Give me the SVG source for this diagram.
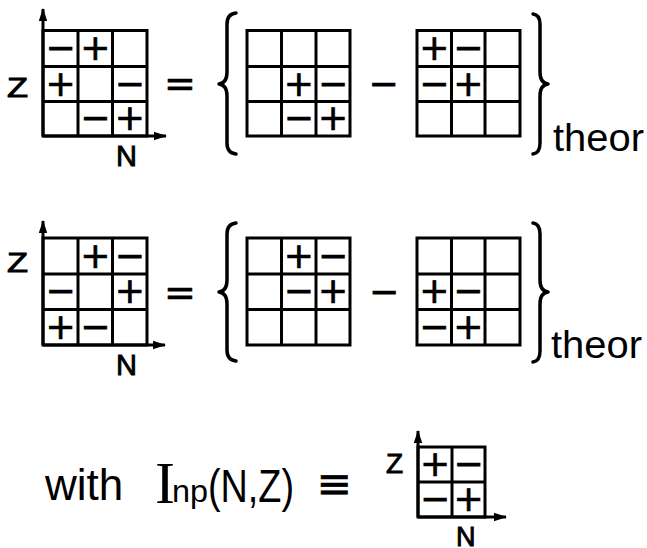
<svg xmlns="http://www.w3.org/2000/svg" width="647" height="548" viewBox="0 0 647 548">
<style>
.bg{fill:#fff}
.grid rect,.grid line{fill:none;stroke:#000;stroke-width:3}
.axis{stroke:#000;stroke-width:3;fill:none}
.brace{fill:none;stroke:#000;stroke-width:3.5;stroke-linecap:round;stroke-linejoin:round}
.s{font-family:"DejaVu Sans",sans-serif;font-size:36px;text-anchor:middle;fill:#000;stroke:#000;stroke-width:0.7}
.op{font-family:"DejaVu Sans",sans-serif;text-anchor:middle;fill:#000;stroke:#000;stroke-width:0.7}
.t{font-family:"Liberation Sans",Arial,sans-serif;fill:#000}
.lb{font-family:"Liberation Sans",Arial,sans-serif;fill:#000;stroke:#000;stroke-width:0.9}
</style>
<defs>
<marker id="ah" markerUnits="userSpaceOnUse" markerWidth="14" markerHeight="10" refX="12" refY="5" orient="auto">
<path d="M0,0.8 L13,5 L0,9.2 z" fill="#000"/>
</marker>
</defs>
<rect class="bg" x="0" y="0" width="647" height="548"/>

<!-- Row 1 -->
<g id="r1-lhs">
<text class="lb" x="7" y="97" font-size="27" textLength="21" lengthAdjust="spacingAndGlyphs">Z</text>
<text class="lb" x="116" y="166" font-size="29">N</text>
<g class="grid"><rect x="43" y="30.5" width="104" height="105.5"/>
<line x1="78" y1="30.5" x2="78" y2="136"/><line x1="112.5" y1="30.5" x2="112.5" y2="136"/>
<line x1="43" y1="66.5" x2="147" y2="66.5"/><line x1="43" y1="101.5" x2="147" y2="101.5"/></g>
<text class="s" x="60.5" y="60">−</text><text class="s" x="95.25" y="60">+</text>
<text class="s" x="60.5" y="95.5">+</text><text class="s" x="129.75" y="95.5">−</text>
<text class="s" x="95.25" y="130.25">−</text><text class="s" x="129.75" y="130.25">+</text>
</g>
<text id="r1-eq" class="op" x="180" y="96" font-size="38">=</text>
<g id="r1-g2">
<g class="grid"><rect x="247" y="30.5" width="103" height="105.5"/>
<line x1="281.5" y1="30.5" x2="281.5" y2="136"/><line x1="316" y1="30.5" x2="316" y2="136"/>
<line x1="247" y1="66.5" x2="350" y2="66.5"/><line x1="247" y1="101.5" x2="350" y2="101.5"/></g>
<text class="s" x="298.75" y="95.5">+</text><text class="s" x="333" y="95.5">−</text>
<text class="s" x="298.75" y="130.25">−</text><text class="s" x="333" y="130.25">+</text>
</g>
<text id="r1-minus" class="op" x="383.5" y="95.5" font-size="36">−</text>
<g id="r1-g3">
<g class="grid"><rect x="417" y="30.5" width="103" height="105.5"/>
<line x1="451.5" y1="30.5" x2="451.5" y2="136"/><line x1="485" y1="30.5" x2="485" y2="136"/>
<line x1="417" y1="66.5" x2="520" y2="66.5"/><line x1="417" y1="101.5" x2="520" y2="101.5"/></g>
<text class="s" x="434.25" y="60">+</text><text class="s" x="468.25" y="60">−</text>
<text class="s" x="434.25" y="95.5">−</text><text class="s" x="468.25" y="95.5">+</text>
</g>
<g id="r1-braces">
<path class="brace" d="M236,13 Q227,14 227,24 L227,72 Q227,83 219,84 Q227,85 227,96 L227,143 Q227,153 236,154"/>
<path class="brace" d="M533,14 Q540,15 540,24 L540,72 Q540,83 548,84 Q540,85 540,96 L540,143 Q540,153 533,154"/>
</g>
<text id="r1-theor" class="t" x="553" y="151" font-size="38" textLength="91" lengthAdjust="spacingAndGlyphs">theor</text>

<!-- Row 2 -->
<g id="r2-lhs">
<text class="lb" x="7" y="272" font-size="27" textLength="21" lengthAdjust="spacingAndGlyphs">Z</text>
<text class="lb" x="116" y="375" font-size="29">N</text>
<g class="grid"><rect x="43" y="238" width="104" height="107"/>
<line x1="78" y1="238" x2="78" y2="345"/><line x1="112.5" y1="238" x2="112.5" y2="345"/>
<line x1="43" y1="274" x2="147" y2="274"/><line x1="43" y1="309.5" x2="147" y2="309.5"/></g>
<text class="s" x="95.25" y="267.5">+</text><text class="s" x="129.75" y="267.5">−</text>
<text class="s" x="60.5" y="303.25">−</text><text class="s" x="129.75" y="303.25">+</text>
<text class="s" x="60.5" y="338.75">+</text><text class="s" x="95.25" y="338.75">−</text>
</g>
<text id="r2-eq" class="op" x="180" y="305" font-size="38">=</text>
<g id="r2-g2">
<g class="grid"><rect x="247" y="238" width="103" height="107"/>
<line x1="281.5" y1="238" x2="281.5" y2="345"/><line x1="316" y1="238" x2="316" y2="345"/>
<line x1="247" y1="274" x2="350" y2="274"/><line x1="247" y1="309.5" x2="350" y2="309.5"/></g>
<text class="s" x="298.75" y="267.5">+</text><text class="s" x="333" y="267.5">−</text>
<text class="s" x="298.75" y="303.25">−</text><text class="s" x="333" y="303.25">+</text>
</g>
<text id="r2-minus" class="op" x="384" y="304" font-size="36">−</text>
<g id="r2-g3">
<g class="grid"><rect x="417" y="238" width="103" height="107"/>
<line x1="451.5" y1="238" x2="451.5" y2="345"/><line x1="485" y1="238" x2="485" y2="345"/>
<line x1="417" y1="274" x2="520" y2="274"/><line x1="417" y1="309.5" x2="520" y2="309.5"/></g>
<text class="s" x="434.25" y="303.25">+</text><text class="s" x="468.25" y="303.25">−</text>
<text class="s" x="434.25" y="338.75">−</text><text class="s" x="468.25" y="338.75">+</text>
</g>
<g id="r2-braces">
<path class="brace" d="M236,223 Q227,224 227,234 L227,280 Q227,291 219,292 Q227,293 227,304 L227,350 Q227,360 236,361"/>
<path class="brace" d="M533,223 Q540,224 540,234 L540,280 Q540,291 548,292 Q540,293 540,304 L540,351 Q540,361 533,362"/>
</g>
<text id="r2-theor" class="t" x="551" y="358" font-size="38" textLength="91" lengthAdjust="spacingAndGlyphs">theor</text>

<!-- Row 3 -->
<g id="r3-def">
<text class="t" x="45" y="500" font-size="44">with</text>
<text x="155" y="503" font-family="Liberation Serif,serif" font-size="60">I</text>
<text class="t" x="172" y="502" font-size="32" textLength="36" lengthAdjust="spacingAndGlyphs">np</text>
<text class="t" x="208" y="502" font-size="46" textLength="86" lengthAdjust="spacingAndGlyphs">(N,Z)</text>
<text class="op" x="334" y="498" font-size="42">≡</text>
</g>
<g id="r3-grid">
<text class="lb" x="386" y="473" font-size="28">Z</text>
<text class="lb" x="456" y="546" font-size="27">N</text>
<g class="grid"><rect x="418" y="447" width="67" height="70"/>
<line x1="452" y1="447" x2="452" y2="517"/><line x1="418" y1="482" x2="485" y2="482"/></g>
<text class="s" x="435" y="476">+</text><text class="s" x="468.5" y="476">−</text>
<text class="s" x="435" y="511">−</text><text class="s" x="468.5" y="511">+</text>
</g>

<!-- axes -->
<g id="axes">
<line class="axis" x1="43" y1="136" x2="43" y2="9" marker-end="url(#ah)"/>
<line class="axis" x1="43" y1="136" x2="166" y2="136" marker-end="url(#ah)"/>
<line class="axis" x1="43" y1="345" x2="43" y2="221" marker-end="url(#ah)"/>
<line class="axis" x1="43" y1="345" x2="165" y2="345" marker-end="url(#ah)"/>
<line class="axis" x1="418" y1="517" x2="418" y2="431" marker-end="url(#ah)"/>
<line class="axis" x1="418" y1="517" x2="506" y2="517" marker-end="url(#ah)"/>
</g>
</svg>
